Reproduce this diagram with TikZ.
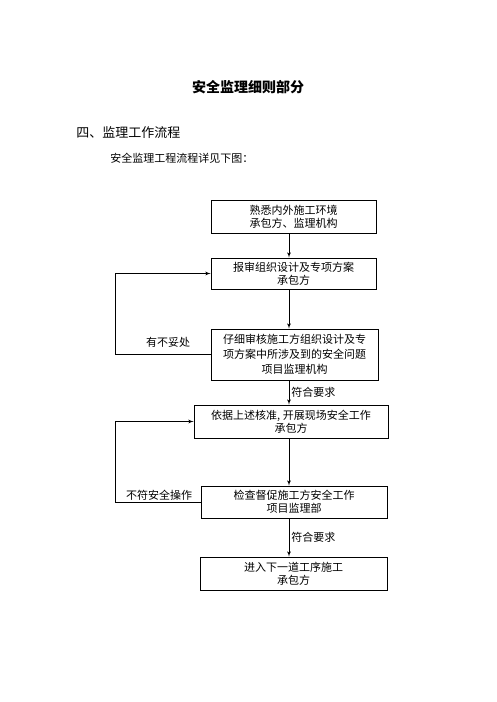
\documentclass[tikz,border=0pt]{standalone}
\usepackage{fontspec}
\newfontfamily\cjk{Noto Sans CJK SC}
\usetikzlibrary{arrows,positioning}

\begin{document}
\begin{tikzpicture}[x=1pt,y=-1pt,font=\cjk\fontsize{11}{13}\selectfont,
		->,>=latex',line width=0.8pt,
		main node/.style={draw,rectangle,align=center,inner sep=1pt},
		note node/.style={inner sep=2pt}]
	\useasboundingbox (0,0) rectangle (496,702);
	% Headings above the chart.
	\node[note node,font=\cjk\bfseries\fontsize{14}{16}\selectfont] (title) at (248,87) {安全监理细则部分};
	\node[note node,font=\cjk\fontsize{13}{15}\selectfont,anchor=west] (sect) at (74,133) {四、监理工作流程};
	\node[note node,anchor=west] (intro) at (108,158) {安全监理工程流程详见下图：};
	%
	% Chart boxes, top to bottom.
	\node[main node,minimum width=165pt,minimum height=33pt] (0) at (293.5,216.5) {熟悉内外施工环境\\承包方、监理机构};
	\node[main node,minimum width=165pt,minimum height=31pt] (1) at (293.5,273.5) {报审组织设计及专项方案\\承包方};
	\node[main node,minimum width=167pt,minimum height=51pt,font=\cjk\fontsize{11}{15}\selectfont] (2) at (294.5,354.5) {仔细审核施工方组织设计及专\\项方案中所涉及到的安全问题\\项目监理机构};
	\node[main node,minimum width=194pt,minimum height=33pt] (3) at (291,421.5) {依据上述核准, 开展现场安全工作\\承包方};
	\node[main node,minimum width=186pt,minimum height=32pt] (4) at (294,502) {检查督促施工方安全工作\\项目监理部};
	\node[main node,minimum width=187pt,minimum height=33pt] (5) at (293.5,573.5) {进入下一道工序施工\\承包方};
	\coordinate (axis) at (289,0);
	\coordinate (loop) at (115,0);
	%
	% Straight line down the middle.
	\draw (0.south -| axis) -- (1.north -| axis);
	\draw (1.south -| axis) -- (2.north -| axis);
	\draw (2.south -| axis) -- node[note node,right] {符合要求} (3.north -| axis);
	\draw (3.south -| axis) -- (4.north -| axis);
	\draw (4.south -| axis) -- node[note node,right] {符合要求} (5.north -| axis);
	%
	% Loops back on the left.
	\draw (2.west) -- (loop |- 2.west) |- (1.west);
	\draw (4.west) -- (loop |- 4.west) |- (3.west);
	\node[note node] (100) at (168,342) {有不妥处};
	\node[note node] (101) at (159,495) {不符安全操作};
\end{tikzpicture}
\end{document}
